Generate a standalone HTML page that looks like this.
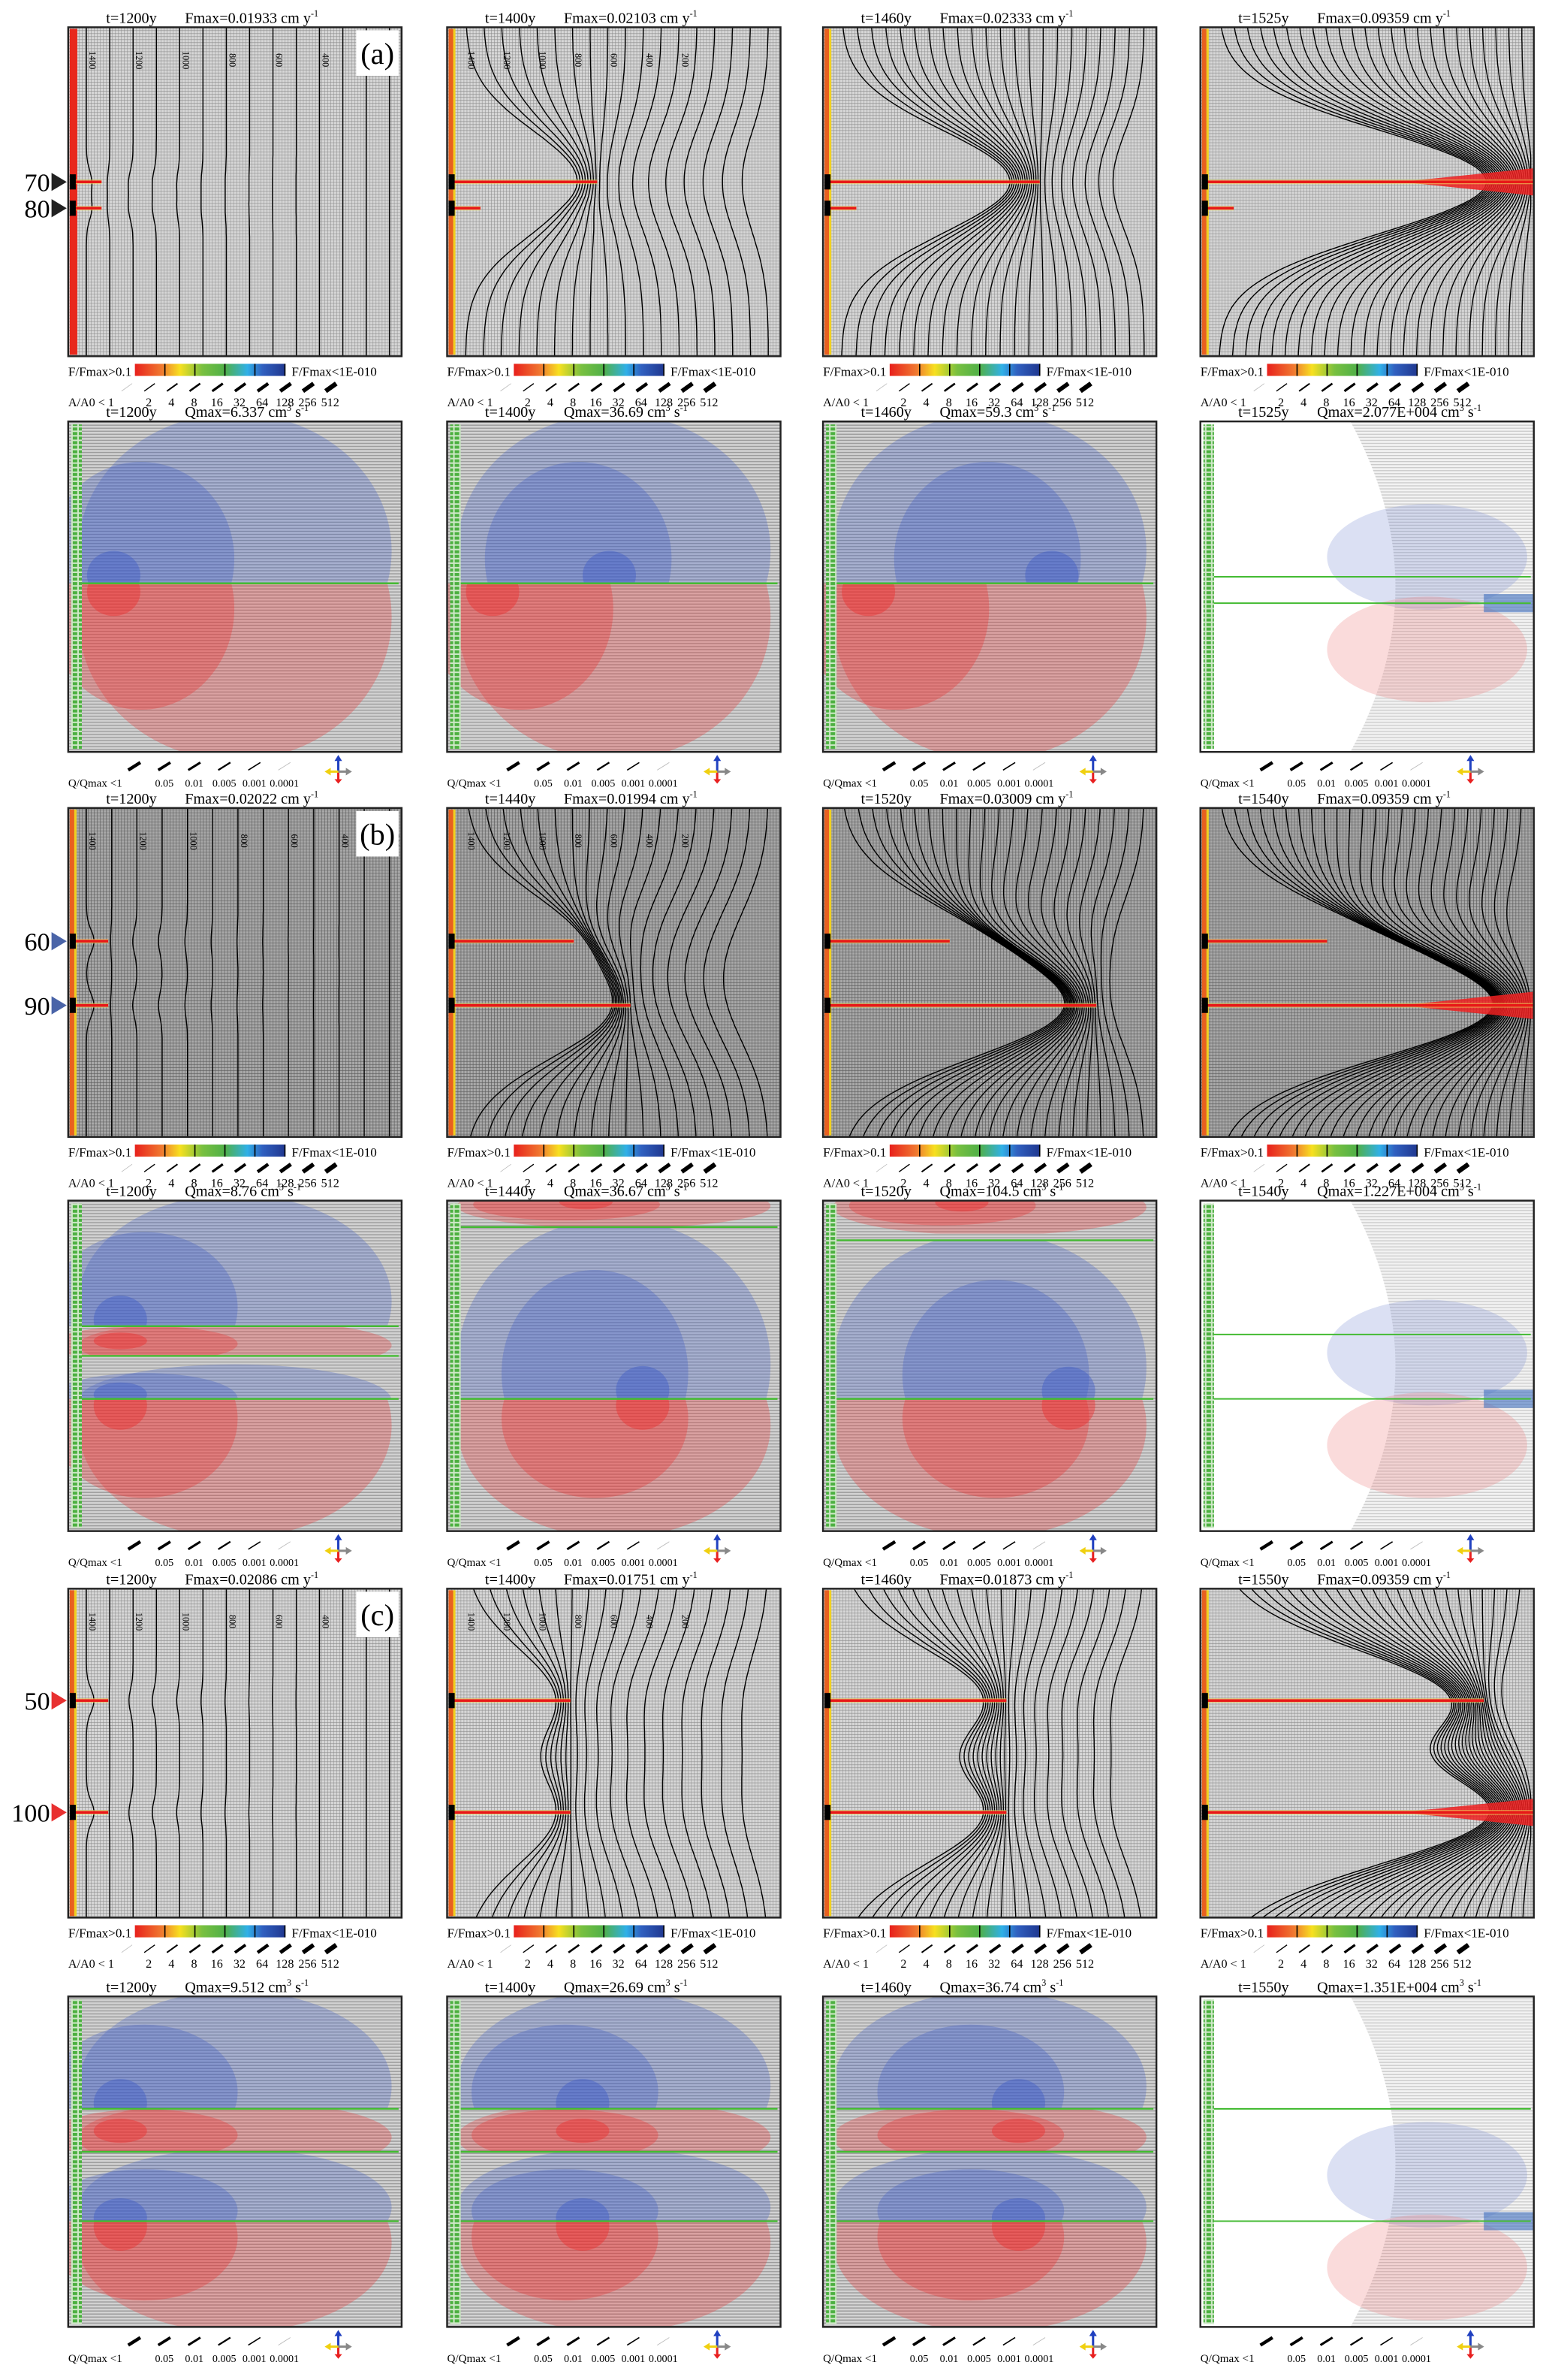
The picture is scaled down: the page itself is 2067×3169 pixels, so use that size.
<!DOCTYPE html>
<html><head><meta charset="utf-8"><style>
html,body{margin:0;padding:0;background:#fff;}
svg{display:block;}
text{font-family:"Liberation Serif",serif;}
</style></head><body>
<svg id="fig" xmlns="http://www.w3.org/2000/svg" width="2067" height="3169" viewBox="0 0 1024 1570" preserveAspectRatio="none">
<defs>
<pattern id="gridA" width="2" height="2" patternUnits="userSpaceOnUse"><rect width="2" height="2" fill="#d6d6d6"/><path d="M0 0H2M0 0V2" stroke="#8a8a8a" stroke-width="0.5"/></pattern>
<pattern id="gridB" width="2" height="2" patternUnits="userSpaceOnUse"><rect width="2" height="2" fill="#a8a8a8"/><path d="M0 0H2M0 0V2" stroke="#5a5a5a" stroke-width="0.6"/></pattern>
<pattern id="hlines" width="2" height="2" patternUnits="userSpaceOnUse"><rect width="2" height="2" fill="#d2d2d2"/><path d="M0 0.5H2" stroke="#9c9c9c" stroke-width="0.7"/></pattern>
<pattern id="hlinesL" width="2" height="2" patternUnits="userSpaceOnUse"><rect width="2" height="2" fill="#f2f2f2"/><path d="M0 0.5H2" stroke="#c8c8c8" stroke-width="0.6"/></pattern>
<pattern id="greenStrip" width="4" height="3" patternUnits="userSpaceOnUse"><rect width="4" height="3" fill="#cfe8c8"/><rect x="0" y="0" width="3" height="2" fill="#4cb040"/></pattern>
<linearGradient id="cbar" x1="0" x2="1" y1="0" y2="0">
<stop offset="0" stop-color="#e8201c"/><stop offset="0.18" stop-color="#f07a30"/><stop offset="0.3" stop-color="#f7e020"/><stop offset="0.45" stop-color="#78c040"/><stop offset="0.6" stop-color="#50b048"/><stop offset="0.75" stop-color="#30b0e8"/><stop offset="0.85" stop-color="#3060c0"/><stop offset="1" stop-color="#203890"/>
</linearGradient>
</defs>
</svg>
<script>
// ---- data ----
const rowLabels = ["(a)", "(b)", "(c)"];
const fTimes = [["1200y","1400y","1460y","1525y"],["1200y","1440y","1520y","1540y"],["1200y","1400y","1460y","1550y"]];
const fmaxVals = [["0.01933","0.02103","0.02333","0.09359"],["0.02022","0.01994","0.03009","0.09359"],["0.02086","0.01751","0.01873","0.09359"]];
const qmaxVals = [["6.337","36.69","59.3","2.077E+004"],["8.76","36.67","104.5","1.227E+004"],["9.512","26.69","36.74","1.351E+004"]];
const fracLabels = [["70","80"],["60","90"],["50","100"]];
const fracY = [[0.47,0.55],[0.405,0.6],[0.34,0.68]];
const fracLen = [[[0.1,0.1],[0.45,0.1],[0.65,0.1],[1.0,0.1]],
                 [[0.12,0.12],[0.38,0.55],[0.38,0.82],[0.38,1.0]],
                 [[0.12,0.12],[0.37,0.37],[0.55,0.55],[0.85,1.0]]];
const contourCount = [[14,18,22,24],[13,18,22,24],[14,18,20,24]];
const contourVals = ["1400","1200","1000","800","600","400","200"];
const aLegend = ["2","4","8","16","32","64","128","256","512"];
const qLegend = ["0.05","0.01","0.005","0.001","0.0001"];
// Q lobe regions: [top, bottom, color, anchorY]
const qRegions = [
 [[[0,0.49,"b",0.49],[0.49,1,"r",0.49]], [[0,0.49,"b",0.49],[0.49,1,"r",0.49]], [[0,0.49,"b",0.49],[0.49,1,"r",0.49]], null],
 [[[0,0.38,"b",0.38],[0.38,0.47,"r",0.42],[0.47,0.6,"b",0.58],[0.6,1,"r",0.6]],
  [[0,0.08,"r",0.0],[0.08,0.6,"b",0.6],[0.6,1,"r",0.6]],
  [[0,0.1,"r",0.0],[0.12,0.6,"b",0.6],[0.6,1,"r",0.6]], null],
 [[[0,0.34,"b",0.34],[0.34,0.47,"r",0.4],[0.47,0.68,"b",0.68],[0.68,1,"r",0.68]],
  [[0,0.34,"b",0.34],[0.34,0.47,"r",0.4],[0.47,0.68,"b",0.68],[0.68,1,"r",0.68]],
  [[0,0.34,"b",0.34],[0.34,0.47,"r",0.4],[0.47,0.68,"b",0.68],[0.68,1,"r",0.68]], null]
];
// ---- layout ----
const colX = [45, 295, 543, 792];
const PW = 220, PH = 217;
const fTop = [18, 533, 1048];
const qTop = [278, 792, 1317];
const NS = "http://www.w3.org/2000/svg";
const svg = document.getElementById("fig");
function mk(tag, attrs, parent){
  const e = document.createElementNS(NS, tag);
  for (const k in attrs) e.setAttribute(k, attrs[k]);
  (parent||svg).appendChild(e);
  return e;
}
function txt(s, x, y, size, parent, anchor, fam){
  const t = mk("text", {x:x, y:y, "font-size":size, fill:"#000", "text-anchor":anchor||"start"}, parent);
  if (fam) t.setAttribute("font-family", fam);
  t.textContent = s;
  return t;
}

for (let r = 0; r < 3; r++) {
  for (let c = 0; c < 4; c++) {
    const x = colX[c], y = fTop[r];
    const g = mk("g", {});
    
    
    const t1 = txt("t=" + fTimes[r][c], x+25, y-3, 10, g);
    
    
    const t2 = txt("Fmax=" + fmaxVals[r][c] + " cm y", x+77, y-3, 10, g);
    
    
    const sup = mk("tspan", {"font-size":6, dy:-4}, t2); sup.textContent = "-1";
    const bg = mk("rect", {x:x, y:y, width:PW, height:PH, fill: r===1 ? "url(#gridB)" : "url(#gridA)"}, g);
    
    
    const ls = mk("rect", {x:x+1, y:y+1, width:(r===0&&c===0)?5:3, height:PH-2, fill:(r===0&&c===0)?"#e8281c":"#e86020"}, g);
    
    
    if (c>0 || r>0) { const ys = mk("rect",{x:x+4,y:y+1,width:1.5,height:PH-2,fill:"#f0d020"},g);   }
    const n = contourCount[r][c];
    const lens = fracLen[r][c];
    const tips = lens.map((L,i)=>({tx:x+L*PW, ty:y+fracY[r][i]*PH, L:L}));
    for (let k = 0; k < n; k++) {
      const x0 = x + 12 + k*(PW-20)/(n-1);
      let d = "";
      for (let s = 0; s <= 80; s++) {
        const yy = y + s*PH/80;
        let xx = x0;
        for (const tp of tips) {
          const long = tp.L > 0.2;
          const sg = long ? 0.22*PH : 0.05*PH;
          const p = (long ? 0.85 : 0.35)*Math.exp(-Math.pow((yy-tp.ty)/sg,2));
          const dd = xx - tp.tx;
          const h = dd < 0 ? 1 : Math.exp(-dd/((long?0.3:0.1)*PW));
          xx = xx + (tp.tx - xx)*p*h;
        }
        xx = Math.max(x+2, Math.min(x+PW-2, xx));
        d += (s?"L":"M") + xx.toFixed(1) + " " + yy.toFixed(1);
      }
      const p = mk("path", {d:d, fill:"none", stroke:"#000", "stroke-width":0.7}, g);
      
      
      if (k%2===0 && k/2 < contourVals.length && c<2) {
        const lb = txt(contourVals[k/2], 0, 0, 6, g, "middle", "Liberation Sans");
        lb.setAttribute("transform", "translate(" + (x0+2) + "," + (y+0.1*PH) + ") rotate(90)");
        
        
      }
    }
    tips.forEach((tp, i) => {
      if (tp.L >= 0.99) {
        const blob = mk("path", {d:"M"+(x+0.6*PW)+" "+tp.ty+" L"+(x+PW)+" "+(tp.ty-9)+" L"+(x+PW)+" "+(tp.ty+9)+"Z", fill:"#ee2020", opacity:0.85}, g);
        
        
      }
      const glow = mk("line", {x1:x+2, y1:tp.ty, x2:tp.tx, y2:tp.ty, stroke:"#f4e060", "stroke-width":3, opacity:0.6}, g);
      
      
      const fl = mk("line", {x1:x+2, y1:tp.ty, x2:tp.tx, y2:tp.ty, stroke:"#e81818", "stroke-width":1.8}, g);
      
      
      const fk = mk("rect", {x:x+1, y:tp.ty-5, width:4, height:10, fill:"#000"}, g);
      
      
    });
    const fr = mk("rect", {x:x, y:y, width:PW, height:PH, fill:"none", stroke:"#222", "stroke-width":1.2}, g);
    
    
    const ly = y + PH;
    const l1 = txt("F/Fmax>0.1", x, ly+13, 8.5, g);
    
    
    const cb = mk("rect", {x:x+0.2*PW, y:ly+5, width:0.45*PW, height:8, fill:"url(#cbar)"}, g);
    
    
    for (let k=1;k<=5;k++){ const tk = mk("line",{x1:x+0.2*PW+k*0.09*PW,y1:ly+5,x2:x+0.2*PW+k*0.09*PW,y2:ly+13,stroke:"#000","stroke-width":0.8},g);   }
    const l2 = txt("F/Fmax<1E-010", x+0.67*PW, ly+13, 8.5, g);
    
    
    const l3 = txt("A/A0 < 1", x, ly+33, 8, g);
    
    
    for (let k=0;k<10;k++){
      const sx = x + (0.16 + k*0.068)*PW;
      const sl = mk("line",{x1:sx,y1:ly+23,x2:sx+7,y2:ly+18,stroke:k===0?"#bbb":"#000","stroke-width":0.4+k*0.3},g);
      
      
      if (k>0){ const at = txt(aLegend[k-1], sx+3, ly+33, 8, g, "middle");   }
    }
    if (c===0) {
      const lab = mk("g", {}, svg);
      
      
      mk("rect",{x:x+190,y:y+2,width:28,height:30,fill:"#fff"},lab);
      txt(rowLabels[r], x+204, y+24, 20, lab, "middle", "Liberation Sans");
      tips.forEach((tp,i)=>{
        const col = r===0 ? "#222" : (r===1 ? "#4a64a8" : "#e83030");
        const ft = txt(fracLabels[r][i], 33, tp.ty+6, 17, svg, "end", "Liberation Sans");
        
        
        const tri = mk("path",{d:"M34 "+(tp.ty-6)+" L44 "+tp.ty+" L34 "+(tp.ty+6)+"Z",fill:col},svg);
        
        
      });
    }
  }
}

for (let r = 0; r < 3; r++) {
  for (let c = 0; c < 4; c++) {
    const x = colX[c], y = qTop[r], H = 218;
    const g = mk("g", {});
    
    
    const t1 = txt("t=" + fTimes[r][c], x+25, y-3, 10, g);
    
    
    const t2 = txt("Qmax=" + qmaxVals[r][c] + " cm", x+77, y-3, 10, g);
    
    
    const s1 = mk("tspan",{"font-size":6,dy:-4},t2); s1.textContent="3";
    const s2 = mk("tspan",{"font-size":10,dy:4},t2); s2.textContent=" s";
    const s3 = mk("tspan",{"font-size":6,dy:-4},t2); s3.textContent="-1";
    const regs = qRegions[r][c];
    const tipsX = fracLen[r][c];
    if (regs) {
      const bg = mk("rect",{x:x,y:y,width:PW,height:H,fill:"url(#hlines)"},g);
      
      
      regs.forEach((rg,i)=>{
        const cid = "qr"+r+c+i;
        const cp2 = mk("clipPath",{id:cid},g); mk("rect",{x:x,y:y+rg[0]*H,width:PW,height:(rg[1]-rg[0])*H},cp2);
        const lg = mk("g",{"clip-path":"url(#"+cid+")"},g);
        
        
        const col = rg[2]==="b" ? "#3a58c8" : "#f02828";
        const ay = y + rg[3]*H;
        const up = (rg[3] >= rg[1]-0.01) ? -1 : 1;
        const rh = (rg[1]-rg[0])*H;
        const tl = tipsX[Math.min(i,1)];
        const ax = x + Math.min(tl, 0.7)*PW + 8;
        mk("ellipse",{cx:x+0.5*PW,cy:ay+up*rh*0.2,rx:0.47*PW,ry:rh*0.85,fill:col,"fill-opacity":0.28},lg);
        mk("ellipse",{cx:(ax+x+0.3*PW)/2,cy:ay+up*rh*0.15,rx:0.28*PW,ry:rh*0.6,fill:col,"fill-opacity":0.3},lg);
        mk("ellipse",{cx:ax,cy:ay+up*rh*0.05,rx:0.08*PW,ry:Math.min(rh*0.28,16),fill:col,"fill-opacity":0.4},lg);
      });
      regs.forEach((rg,i)=>{ if(i>0){ const gl = mk("line",{x1:x+8,y1:y+rg[0]*H,x2:x+PW-2,y2:y+rg[0]*H,stroke:"#44bb33","stroke-width":1.2},g);   } });
    } else {
      const bg = mk("rect",{x:x,y:y,width:PW,height:H,fill:"#fff"},g);
      
      
      const gr = mk("path",{d:"M"+(x+0.45*PW)+" "+y+" H"+(x+PW)+" V"+(y+H)+" H"+(x+0.45*PW)+" Q"+(x+0.72*PW)+" "+(y+H/2)+" "+(x+0.45*PW)+" "+y+"Z",fill:"url(#hlinesL)"},g);
      
      
      const fy = y + fracY[r][1]*H;
      const bl = mk("ellipse",{cx:x+0.68*PW,cy:fy-0.14*H,rx:0.3*PW,ry:0.16*H,fill:"#8898d8","fill-opacity":0.3},g);
       
      const rd = mk("ellipse",{cx:x+0.68*PW,cy:fy+0.14*H,rx:0.3*PW,ry:0.16*H,fill:"#f08888","fill-opacity":0.3},g);
       
      const hot = mk("rect",{x:x+0.85*PW,y:fy-6,width:0.15*PW,height:12,fill:"#4070c0","fill-opacity":0.6},g);
       
      fracY[r].forEach(fyv=>{ const gl = mk("line",{x1:x+8,y1:y+fyv*H,x2:x+PW-2,y2:y+fyv*H,stroke:"#44bb33","stroke-width":1},g);   });
    }
    const gs = mk("rect",{x:x+2,y:y+2,width:7,height:H-4,fill:"url(#greenStrip)"},g);
    
    
    const fr = mk("rect",{x:x,y:y,width:PW,height:H,fill:"none",stroke:"#222","stroke-width":1.2},g);
    
    
    const ly = y + H;
    const lt = txt("Q/Qmax <1", x, ly+23, 7.5, g);
    
    
    for (let k=0;k<6;k++){
      const sx = x + (0.18 + k*0.09)*PW;
      const sl = mk("line",{x1:sx,y1:ly+12,x2:sx+8,y2:ly+7,stroke:k===5?"#bbb":"#000","stroke-width":2.2-k*0.35},g);
      
      
      if (k>0){ const vt = txt(qLegend[k-1], sx+4, ly+23, 7, g, "middle");   }
    }
    const ar = mk("g",{},g);
    
    
    const axc = x + 0.81*PW, ayc = ly + 13;
    mk("line",{x1:axc,y1:ayc,x2:axc,y2:ayc-8,stroke:"#2040c0","stroke-width":1.5},ar);
    mk("path",{d:"M"+(axc-2.5)+" "+(ayc-7)+"L"+axc+" "+(ayc-11)+"L"+(axc+2.5)+" "+(ayc-7)+"Z",fill:"#2040c0"},ar);
    mk("line",{x1:axc,y1:ayc,x2:axc,y2:ayc+6,stroke:"#e82020","stroke-width":1.5},ar);
    mk("path",{d:"M"+(axc-2.5)+" "+(ayc+5)+"L"+axc+" "+(ayc+8)+"L"+(axc+2.5)+" "+(ayc+5)+"Z",fill:"#e82020"},ar);
    mk("line",{x1:axc,y1:ayc,x2:axc-6,y2:ayc,stroke:"#f0d010","stroke-width":1.5},ar);
    mk("path",{d:"M"+(axc-5)+" "+(ayc-2.5)+"L"+(axc-9)+" "+ayc+"L"+(axc-5)+" "+(ayc+2.5)+"Z",fill:"#f0d010"},ar);
    mk("line",{x1:axc,y1:ayc,x2:axc+6,y2:ayc,stroke:"#888","stroke-width":1.5},ar);
    mk("path",{d:"M"+(axc+5)+" "+(ayc-2.5)+"L"+(axc+9)+" "+ayc+"L"+(axc+5)+" "+(ayc+2.5)+"Z",fill:"#888"},ar);
  }
}
</script>
</body></html>
